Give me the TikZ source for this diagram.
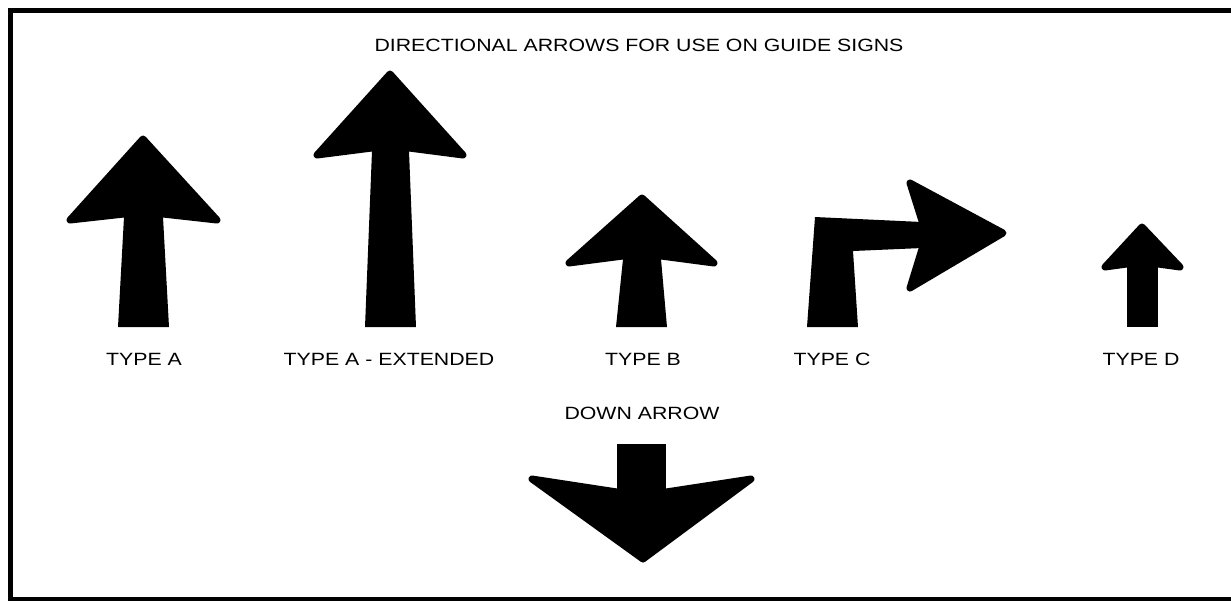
\documentclass[tikz,border=0pt]{standalone}
\usepackage{fontspec}
\setmainfont{Liberation Sans}
\begin{document}
\begin{tikzpicture}[x=0.02cm,y=-0.02cm,
  shaftfill/.style={fill=black},
  headfill/.style={fill=black,draw=black,line width=0.14cm,line join=round},
  lbl/.style={inner sep=0pt,font=\fontsize{10.1}{12}\selectfont},
  frameline/.style={draw=black,line width=0.09cm}]
\useasboundingbox (0,0) rectangle (1231,600);
\clip (0,0) rectangle (1231,600);
\fill[white] (0,0) rectangle (1231,600);
\draw[frameline] (10.5,10.5) rectangle (1245,599.5);
% title
\node[lbl] (title) at (639,45) {\scalebox{1.2}[1]{DIRECTIONAL ARROWS FOR USE ON GUIDE SIGNS}};
% Type A
\fill[shaftfill] (124,217) -- (163,217) -- (169,327) -- (118,327) -- cycle;
\filldraw[headfill] (143,139) -- (217,220) -- (163,214) -- (124,214) -- (70,220) -- cycle;
\node[lbl] (la) at (144,359) {\scalebox{1.2}[1]{TYPE A}};
% Type A extended
\fill[shaftfill] (372,151) -- (409,151) -- (416,327) -- (365,327) -- cycle;
\filldraw[headfill] (390,74) -- (463,155) -- (409,148) -- (372,148) -- (317,155) -- cycle;
\node[lbl] (lae) at (389,359) {\scalebox{1.2}[1]{TYPE A - EXTENDED}};
% Type B
\fill[shaftfill] (623,259) -- (661,259) -- (667,327) -- (616,327) -- cycle;
\filldraw[headfill] (642,198) -- (714,263) -- (661,256) -- (623,256) -- (569,263) -- cycle;
\node[lbl] (lb) at (643,359) {\scalebox{1.2}[1]{TYPE B}};
% Type C
\fill[shaftfill] (815,217) -- (922,222) -- (922,248) -- (853,251) -- (858,327) -- (807,327) -- cycle;
\filldraw[headfill] (910,183) -- (1003,233) -- (910,288) -- (922,249) -- (922,221) -- cycle;
\node[lbl] (lc) at (832,359) {\scalebox{1.2}[1]{TYPE C}};
% Type D
\fill[shaftfill] (1127,267) rectangle (1158,327);
\filldraw[headfill] (1142,227) -- (1180,267) -- (1158,264) -- (1127,264) -- (1105,267) -- cycle;
\node[lbl] (ld) at (1141,359) {\scalebox{1.2}[1]{TYPE D}};
% Down arrow
\node[lbl] (ldown) at (642,413) {\scalebox{1.2}[1]{DOWN ARROW}};
\fill[shaftfill] (617,444) rectangle (666,493);
\filldraw[headfill] (643,559) -- (532,479) -- (617,492) -- (666,492) -- (751,479) -- cycle;
\end{tikzpicture}
\end{document}
